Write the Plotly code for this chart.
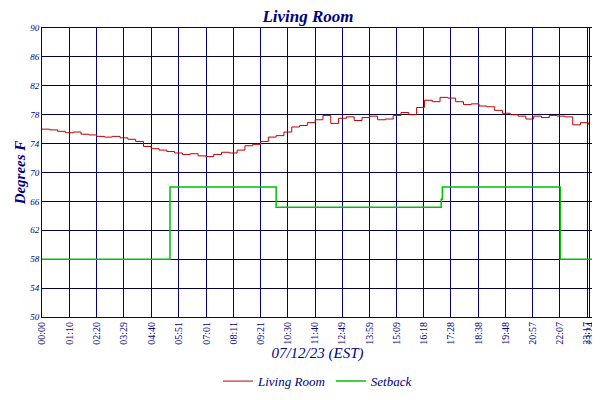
import plotly.graph_objects as go

# living room temperature, sampled every 20 minutes (minutes after midnight)
temp_min = list(range(0, 1401, 20))
temp_f = [76.0, 75.9, 75.7, 75.5, 75.6, 75.3, 75.2, 75.0, 74.9, 75.0, 74.8, 74.6,
          74.3, 73.6, 73.3, 73.1, 72.9, 72.7, 72.5, 72.6, 72.3, 72.2, 72.5, 72.8,
          72.7, 73.1, 73.7, 73.9, 74.3, 74.9, 75.1, 75.6, 76.3, 76.5, 76.9, 77.3,
          77.9, 76.8, 77.5, 77.7, 77.2, 77.6, 77.8, 77.3, 77.4, 77.9, 78.3, 78.0,
          79.0, 80.0, 79.8, 80.4, 80.3, 79.8, 79.4, 79.5, 79.2, 79.1, 78.6, 78.2,
          78.0, 77.8, 77.4, 77.8, 77.6, 77.9, 77.8, 77.7, 76.6, 76.9, 76.6]

setback_min = [0, 328, 600, 1023, 1026, 1328, 1412]
setback_f = [58, 68, 65.2, 66.3, 68, 58, 58]

tick_min = [0, 70, 140, 209, 280, 351, 421, 491, 561, 630, 700, 769, 839, 909,
            978, 1048, 1118, 1188, 1257, 1327, 1397, 1404]
tick_txt = ["00:00", "01:10", "02:20", "03:29", "04:40", "05:51", "07:01", "08:11",
            "09:21", "10:30", "11:40", "12:49", "13:59", "15:09", "16:18", "17:28",
            "18:38", "19:48", "20:57", "22:07", "23:17", "23:24"]

navy = "#000080"
fnt = dict(family="Liberation Serif", color=navy)

fig = go.Figure()
fig.add_trace(go.Scatter(x=temp_min, y=temp_f, name="<i>Living Room</i>", mode="lines",
                         line=dict(color="#c00000", width=1, shape="hv")))
fig.add_trace(go.Scatter(x=setback_min, y=setback_f, name="<i>Setback</i>", mode="lines",
                         line=dict(color="#00c000", width=1.5, shape="hv")))
# invisible trace just to get tick labels on the right side too
fig.add_trace(go.Scatter(x=[0], y=[50], yaxis="y2", showlegend=False,
                         mode="markers", marker=dict(opacity=0)))

fig.update_layout(
    width=600, height=400,
    margin=dict(l=34, r=15, t=20, b=68),
    paper_bgcolor="white", plot_bgcolor="white",
    title=dict(text="<i><b>Living Room</b></i>", x=0.5, y=0.995, yanchor="top",
               font=dict(size=17, **fnt)),
    xaxis=dict(range=[0, 1412], tickvals=tick_min, ticktext=tick_txt,
               tickangle=-90, tickfont=dict(size=10, **fnt), automargin=False,
               showgrid=True, gridcolor=navy, gridwidth=1,
               showline=True, linecolor=navy, mirror=True, zeroline=False,
               title=dict(text="<i>07/12/23 (EST)</i>", font=dict(size=15, **fnt),
                          standoff=2)),
    yaxis=dict(range=[50, 90], tick0=50, dtick=4, tickfont=dict(size=9, **fnt),
               automargin=False, ticklen=0,
               showgrid=True, gridcolor="#000040", gridwidth=1,
               showline=True, linecolor=navy, mirror=True, zeroline=False,
               title=dict(text="<i><b>Degrees F</b></i>", font=dict(size=15, **fnt),
                          standoff=0)),
    yaxis2=dict(range=[50, 90], tick0=50, dtick=4, overlaying="y", side="right",
                tickfont=dict(size=9, **fnt), showgrid=False, zeroline=False,
                automargin=False, ticklen=0),
    legend=dict(orientation="h", x=0.5, xanchor="center", y=-0.17, yanchor="top",
                font=dict(size=13, **fnt)),
    font=fnt,
)
fig.update_xaxes(tickprefix="<i>", ticksuffix="</i>")
fig.update_yaxes(tickprefix="<i>", ticksuffix="</i>")
fig.write_html("out.html")
